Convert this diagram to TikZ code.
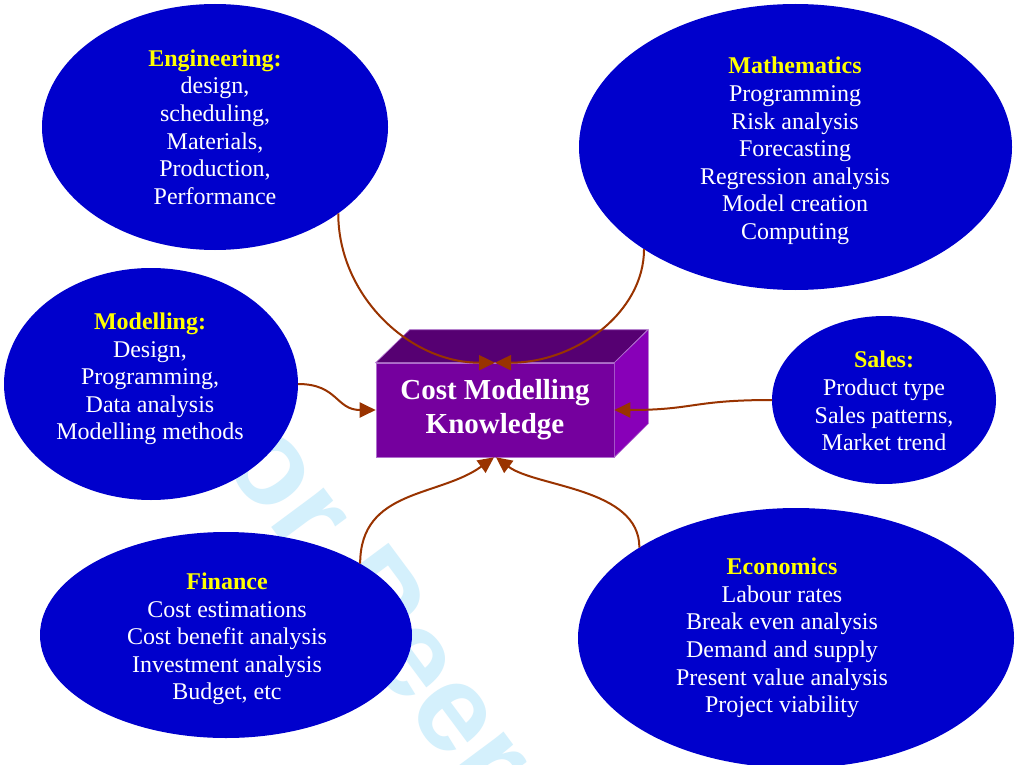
\documentclass[tikz,border=0pt]{standalone}
\usepackage{fontspec}
\setmainfont{Liberation Serif}
\newfontfamily\wmfont{Liberation Sans}
\usetikzlibrary{shapes,arrows.meta}
\definecolor{areablue}{RGB}{0,0,204}
\definecolor{headyellow}{RGB}{255,255,0}
\definecolor{linkbrown}{RGB}{153,51,0}
\definecolor{boxfront}{RGB}{117,0,158}
\definecolor{boxtop}{RGB}{86,0,114}
\definecolor{boxside}{RGB}{136,0,184}
\definecolor{boxedge}{RGB}{175,110,205}
\definecolor{wmblue}{RGB}{212,240,252}
\newcommand{\head}[1]{\textcolor{headyellow}{\textbf{#1}}}
\newcommand{\areanode}{\node[ellipse,fill=areablue,inner sep=0pt,outer sep=0pt]}
\newcommand{\txtnode}{\node[text=white,align=center,font=\fontsize{24}{27.6}\selectfont]}
\tikzset{link/.style={draw=linkbrown,line width=2pt,-{Triangle[length=16pt,width=15pt]}}}

\begin{document}
\begin{tikzpicture}[x=1pt,y=-1pt]
      \useasboundingbox (0,0) rectangle (1017,765);
      \fill[white] (0,0) rectangle (1017,765);
      \begin{scope}
        \clip (0,0) rectangle (1017,765);
        \node[text=wmblue,rotate=-53.4,font=\wmfont\bfseries\fontsize{124}{124}\selectfont] (wm) at (499,760) {For Peer Review};
      \end{scope}
      \areanode[minimum width=346,minimum height=246] (eng) at (215,127) {}; % 
      \areanode[minimum width=433,minimum height=286] (mat) at (795.5,147) {}; % 
      \areanode[minimum width=294,minimum height=232] (mod) at (151,384) {}; % 
      \areanode[minimum width=224,minimum height=168] (sal) at (884,400) {}; % 
      \areanode[minimum width=372,minimum height=206] (fin) at (226,635) {}; % 
      \areanode[minimum width=436,minimum height=260] (eco) at (796,638) {}; % 
      \txtnode (engtxt) at (215,127) {\head{Engineering:}\\design,\\scheduling,\\Materials,\\Production,\\Performance};
      \txtnode (mattxt) at (795,151) {\head{Mathematics}\\Programming\\Risk analysis\\Forecasting\\Regression analysis\\Model creation\\Computing};
      \txtnode (modtxt) at (150,379) {\head{Modelling:}\\Design,\\Programming,\\Data analysis\\Modelling methods};
      \txtnode (saltxt) at (884,401) {\head{Sales:}\\Product type\\Sales patterns,\\Market trend};
      \txtnode (fintxt) at (227,639) {\head{Finance}\\Cost estimations\\Cost benefit analysis\\Investment analysis\\Budget, etc};
      \txtnode (ecotxt) at (782,638) {\head{Economics}\\Labour rates\\Break even analysis\\Demand and supply\\Present value analysis\\Project viability};
      % the box
      \node[rectangle,fill=boxfront,draw=boxedge,line width=0.6pt,minimum width=238,minimum height=94,
            text=white,align=center,font=\bfseries\fontsize{29}{34}\selectfont] (cmk) at (495,410) {Cost Modelling\\Knowledge};
      \filldraw[fill=boxtop,draw=boxedge,line width=0.6pt] (cmk.north west) -- ++(34,-33) -- ++(238,0) -- (cmk.north east) -- cycle;
      \filldraw[fill=boxside,draw=boxedge,line width=0.6pt] (cmk.north east) -- ++(34,-33) -- ++(0,94) -- (cmk.south east) -- cycle;
      % links
      \draw[link] (eng.-35) .. controls +(0,82) and +(-86,0) .. (cmk.north);
      \draw[link] (mat.214) .. controls +(0,63) and +(81,0) .. (cmk.north);
      \draw[link] (mod.east) .. controls +(40,0) and +(-40,0) .. (cmk.west);
      \draw[link] (sal.west) .. controls +(-80,0) and +(80,0) .. (cmk.east);
      \draw[link] (fin.28) .. controls +(0,-75) and +(-55,40) .. ([xshift=-1pt]cmk.south);
      \draw[link] (eco.150) .. controls +(0,-60) and +(40,30) .. ([xshift=1pt]cmk.south);
\end{tikzpicture}
\end{document}
